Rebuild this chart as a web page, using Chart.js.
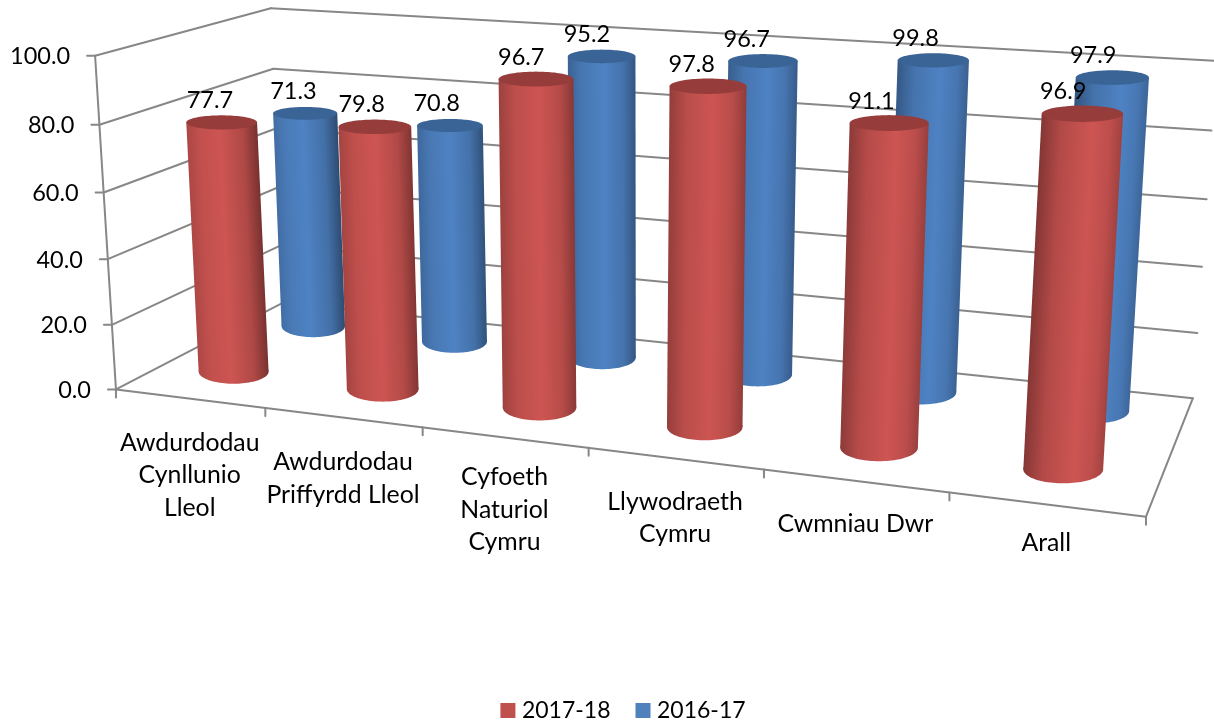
<!DOCTYPE html>
<html><head><meta charset="utf-8">
<style>html,body{margin:0;padding:0;background:#fff}canvas{display:block}</style>
<script src="https://cdn.jsdelivr.net/npm/chart.js@4"></script>
</head><body><canvas id="c" width="1214" height="722"></canvas>
<script>
const categories = [['Awdurdodau','Cynllunio','Lleol'],['Awdurdodau','Priffyrdd Lleol'],['Cyfoeth','Naturiol','Cymru'],['Llywodraeth','Cymru'],['Cwmniau Dwr'],['Arall']];
const values2017 = [77.7,79.8,96.7,97.8,91.1,96.9];
const values2016 = [71.3,70.8,95.2,96.7,99.8,97.9];
const yTicksStep = 20;

const FONT = 'Lato, Carlito, sans-serif';
const FS = 23.5, FS_CAT = 24.8;
const TEXT = '#000';
const GRID = '#878787';
// box corners in (across, up, depth) -> picture; used to fit a perspective camera
const calib = [[0,0,0,117,389],[0,1,0,94,56],[0,1,1,272,8],[0,0,1,282,303],[1,0,0,1146,517],[1,0,1,1193,398],[1,1,1,1216,61]];
const rowDepth = [0.25,0.75], rowWidth = [1.18,1.1], rowLift = [0.008,0.012];
const RATIO_TOP = 0.2, RATIO_BOT = 0.35;
const labelDrop = [44,45,40,43,43,39];
const styles = [{peak:[205,85,82],top:[150,60,58]},{peak:[78,130,195],top:[58,100,150]}];

function solve(A,b){const n=b.length;const M=A.map((r,i)=>[...r,b[i]]);
  for(let i=0;i<n;i++){let p=i;for(let k=i+1;k<n;k++)if(Math.abs(M[k][i])>Math.abs(M[p][i]))p=k;[M[i],M[p]]=[M[p],M[i]];
    for(let k=0;k<n;k++){if(k===i)continue;const f=M[k][i]/M[i][i];for(let j=i;j<=n;j++)M[k][j]-=f*M[i][j];}}
  return M.map((r,i)=>r[n]/r[i]);}
function fit(pts){const rows=[],rhs=[];
  pts.forEach(([x,y,z,u0,v0])=>{const u=u0/1000,v=v0/1000;
    rows.push([1,x,y,z,0,0,0,0,-u*x,-u*y,-u*z]);rhs.push(u);
    rows.push([0,0,0,0,1,x,y,z,-v*x,-v*y,-v*z]);rhs.push(v);});
  const n=11,A=Array.from({length:n},()=>Array(n).fill(0)),b=Array(n).fill(0);
  rows.forEach((r,k)=>{for(let i=0;i<n;i++){b[i]+=r[i]*rhs[k];for(let j=0;j<n;j++)A[i][j]+=r[i]*r[j];}});
  return solve(A,b);}
const P=fit(calib);
function proj(x,y,z){const w=1+P[8]*x+P[9]*y+P[10]*z;
  return [1000*(P[0]+P[1]*x+P[2]*y+P[3]*z)/w,1000*(P[4]+P[5]*x+P[6]*y+P[7]*z)/w];}
function line(ctx,a,b){ctx.beginPath();ctx.moveTo(a[0],a[1]);ctx.lineTo(b[0],b[1]);ctx.stroke();}
function poly(ctx,pts,fill){ctx.beginPath();pts.forEach((p,i)=>i?ctx.lineTo(p[0],p[1]):ctx.moveTo(p[0],p[1]));ctx.closePath();ctx.fillStyle=fill;ctx.fill();}
const lerp=(a,b,t)=>a+(b-a)*t;
const rgb=(c,f)=>`rgb(${c.map(v=>Math.round(v*f)).join(',')})`;
const yDec=(s,v)=>(v-s.min)/(s.max-s.min);

function cylinder(ctx,x,row,y1,st){
  const z=rowDepth[row],y0=rowLift[row];
  const ring=(y,ratio)=>{const c=proj(x,y,z),e=.01,p=proj(x+e,y,z),q=proj(x-e,y,z);
    const hw=rowWidth[row]*Math.sqrt(Math.hypot(p[0]-q[0],p[1]-q[1])/(2*e));
    const a=[];for(let i=0;i<96;i++){const t=i/96*2*Math.PI;a.push([c[0]+hw*Math.cos(t),c[1]+hw*ratio*Math.sin(t)]);}return a;};
  const bot=ring(y0,RATIO_BOT),top=ring(y1,RATIO_TOP);
  const cb=proj(x,y0,z),ct=proj(x,y1,z);
  let ax=ct[0]-cb[0],ay=ct[1]-cb[1];const al=Math.hypot(ax,ay);ax/=al;ay/=al;
  const nx=-ay,ny=ax; // points to the right
  const ext=(r)=>{let lo=r[0],hi=r[0],a=1e9,b=-1e9;r.forEach(p=>{const d=p[0]*nx+p[1]*ny;if(d<a){a=d;lo=p;}if(d>b){b=d;hi=p;}});return [lo,hi];};
  const [bl,br]=ext(bot),[tl,tr]=ext(top);
  const g=ctx.createLinearGradient(tl[0],tl[1],tl[0]+nx*((tr[0]-tl[0])*nx+(tr[1]-tl[1])*ny),tl[1]+ny*((tr[0]-tl[0])*nx+(tr[1]-tl[1])*ny));
  const L=lerp(0.86,0.62,x),R=lerp(0.56,0.8,x),pk=lerp(0.45,0.65,x);
  g.addColorStop(0,rgb(st.peak,L));
  g.addColorStop(pk*0.4,rgb(st.peak,lerp(L,1,0.65)));
  g.addColorStop(pk,rgb(st.peak,1));
  g.addColorStop(pk+(1-pk)*0.6,rgb(st.peak,lerp(1,R,0.35)));
  g.addColorStop(1,rgb(st.peak,R));
  poly(ctx,bot,g);poly(ctx,[tl,tr,br,bl],g);
  poly(ctx,top,rgb(st.top,1));
}

const scene={id:'scene',
  afterLayout(chart){const l=chart.legend;l.top+=10;l.bottom+=10;l.left-=19;l.right-=19;},
  beforeDatasetsDraw(chart){
    const ctx=chart.ctx,ys=chart.scales.y;
    ctx.save();ctx.strokeStyle=GRID;ctx.lineWidth=2;ctx.lineCap='round';
    ys.ticks.forEach(t=>{const v=yDec(ys,t.value);
      const a=proj(0,v,0),b=proj(0,v,1),c=proj(1,v,1);
      line(ctx,a,b);line(ctx,b,c);line(ctx,[a[0]-8,a[1]],a);
      ctx.fillStyle=TEXT;ctx.font=`${FS}px ${FONT}`;ctx.textAlign='right';ctx.textBaseline='middle';
      ctx.fillText(t.label,a[0]-25,a[1]+1);});
    line(ctx,proj(0,0,0),proj(0,1,0));
    line(ctx,proj(0,0,0),proj(1,0,0));
    line(ctx,proj(1,0,0),proj(1,0,1));
    const n=categories.length;
    for(let i=0;i<=n;i++){const p=proj(i/n,0,0);line(ctx,p,[p[0],p[1]+8]);}
    ctx.restore();
  },
  beforeDatasetDraw(){return false;},
  afterDatasetsDraw(chart){
    const ctx=chart.ctx,xs=chart.scales.x,ys=chart.scales.y;
    const cx=b=>xs.getDecimalForPixel(b.x);
    ctx.save();
    [1,0].forEach(d=>{const meta=chart.getDatasetMeta(d);
      meta.data.forEach(b=>cylinder(ctx,cx(b),d,yDec(ys,ys.getValueForPixel(b.y)),styles[d]));});
    ctx.fillStyle=TEXT;ctx.font=`${FS}px ${FONT}`;ctx.textAlign='center';ctx.textBaseline='middle';
    [1,0].forEach(d=>{const meta=chart.getDatasetMeta(d),ds=chart.data.datasets[d];
      meta.data.forEach((b,i)=>{const x=cx(b),p=proj(x,yDec(ys,ys.getValueForPixel(b.y)),rowDepth[d]);
        ctx.fillText(ds.data[i].toFixed(1),p[0]-11-9*x,p[1]-22);});});
    ctx.font=`${FS_CAT}px ${FONT}`;
    chart.data.labels.forEach((lab,i)=>{const x=xs.getDecimalForPixel(xs.getPixelForValue(i)),p=proj(x,0,0);
      lab.forEach((s,k)=>ctx.fillText(s,p[0],p[1]+labelDrop[i]+k*32.5));});
    ctx.restore();
  }};

new Chart(document.getElementById('c'),{type:'bar',
  data:{labels:categories,datasets:[
    {label:'2017-18',data:values2017,backgroundColor:'#C0504D'},
    {label:'2016-17',data:values2016,backgroundColor:'#4F81BD'}]},
  options:{responsive:false,animation:false,devicePixelRatio:1,
    datasets:{bar:{grouped:false}},
    layout:{padding:{left:95,right:20,top:8,bottom:0}},
    scales:{
      x:{display:true,grid:{display:false},border:{display:false},ticks:{display:false}},
      y:{min:0,max:100,ticks:{display:false,stepSize:yTicksStep,callback:v=>v.toFixed(1)},grid:{display:false},border:{display:false}}},
    plugins:{tooltip:{enabled:false},
      legend:{position:'bottom',labels:{usePointStyle:true,pointStyle:'rect',boxWidth:5,boxHeight:15,padding:30,color:TEXT,font:{family:FONT,size:23}}}}},
  plugins:[scene]});
</script></body></html>
